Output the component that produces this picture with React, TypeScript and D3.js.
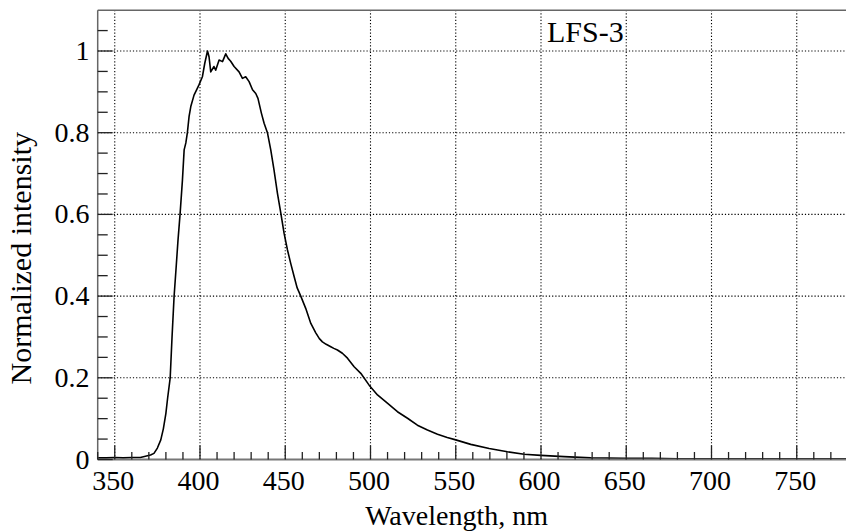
import { useEffect, useRef } from 'react';
import * as d3 from 'd3';

// spectrum
const wavelength = [
  340, 345, 350, 355, 360, 365, 368, 371, 373, 375, 377, 378.5, 380, 381, 382.5, 383.6, 384.8, 386,
  387.1, 388.3, 389.7, 390.7, 391.7, 392.6, 393.6, 394.6, 396.5, 398, 399.4, 401.4, 402.8, 404.4,
  405.3, 406.3, 408.2, 409.2, 411.2, 413.2, 415.1, 416.5, 418, 420, 422.9, 424.9, 426.8, 428.8,
  430.8, 432.7, 434, 436, 437.6, 439.6, 441.5, 443.4, 445.4, 447.4, 449.3, 451.3, 453.2, 455.2,
  457, 459.1, 462, 465, 467.9, 470, 471.8, 474, 476.7, 478.5, 480.6, 483.5, 486.5, 490.4, 494.3,
  499.2, 504.1, 509.9, 515.8, 521.7, 527.5, 533.4, 539.3, 545, 550, 558.8, 569.6, 580.3, 590.1,
  599.9, 613.5, 629.2, 648.7, 665, 680, 700, 720, 740, 760, 780,
];
const intensity = [
  0.004, 0.004, 0.005, 0.004, 0.005, 0.005, 0.008, 0.011, 0.015, 0.028, 0.048, 0.075, 0.113, 0.15,
  0.199, 0.3, 0.399, 0.47, 0.537, 0.6, 0.684, 0.758, 0.775, 0.8, 0.84, 0.864, 0.892, 0.905, 0.917,
  0.937, 0.97, 1.0, 0.986, 0.949, 0.962, 0.953, 0.978, 0.974, 0.993, 0.982, 0.975, 0.962, 0.949,
  0.933, 0.937, 0.925, 0.905, 0.896, 0.884, 0.848, 0.823, 0.799, 0.758, 0.709, 0.652, 0.603, 0.554,
  0.513, 0.48, 0.448, 0.42, 0.4, 0.37, 0.333, 0.31, 0.296, 0.288, 0.282, 0.276, 0.272, 0.268, 0.26,
  0.248, 0.227, 0.211, 0.182, 0.158, 0.138, 0.117, 0.101, 0.084, 0.072, 0.062, 0.054, 0.048, 0.037,
  0.027, 0.019, 0.013, 0.01, 0.007, 0.004, 0.003, 0.003, 0.002, 0.002, 0.002, 0.002, 0.002, 0.002,
];

const xTicks = [350, 400, 450, 500, 550, 600, 650, 700, 750];
const yTicks = [0, 0.2, 0.4, 0.6, 0.8, 1];
const sampleName = 'LFS-3';
const xTitle = 'Wavelength, nm';
const yTitle = 'Normalized intensity';

export default function App() {
  const svgRef = useRef<SVGSVGElement>(null);

  useEffect(() => {
    const width = 846;
    const height = 532;
    const left = 97.7;
    const right = 847.9;
    const top = 10.15;
    const bottom = 459.5;
    const font = '"Liberation Serif", "Times New Roman", serif';

    const svg = d3.select(svgRef.current)
      .attr('width', width)
      .attr('height', height);
    svg.selectAll('*').remove();

    const x = d3.scaleLinear().domain([340, 780]).range([left, right]);
    const y = d3.scaleLinear().domain([0, 1.1]).range([bottom, top]);

    svg.append('defs').append('clipPath').attr('id', 'plot')
      .append('rect')
      .attr('x', left).attr('y', top)
      .attr('width', right - left).attr('height', bottom - top);

    // dotted grid
    svg.append('g')
      .selectAll('line')
      .data(xTicks)
      .enter()
      .append('line')
      .attr('x1', d => x(d)).attr('x2', d => x(d))
      .attr('y1', top).attr('y2', bottom)
      .attr('stroke', '#000')
      .attr('stroke-dasharray', '1.2,2')
      .attr('stroke-width', 1.1);

    svg.append('g')
      .selectAll('line')
      .data(yTicks.filter(d => d > 0))
      .enter()
      .append('line')
      .attr('x1', left).attr('x2', right)
      .attr('y1', d => y(d)).attr('y2', d => y(d))
      .attr('stroke', '#000')
      .attr('stroke-dasharray', '1.2,2')
      .attr('stroke-width', 1.1);

    // spectrum
    const line = d3.line<number>()
      .x((d, i) => x(wavelength[i]))
      .y(d => y(d));

    svg.append('path')
      .datum(intensity)
      .attr('clip-path', 'url(#plot)')
      .attr('fill', 'none')
      .attr('stroke', '#000')
      .attr('stroke-width', 1.6)
      .attr('stroke-linejoin', 'round')
      .attr('d', line);

    // frame
    svg.append('line')
      .attr('x1', left).attr('x2', right).attr('y1', top).attr('y2', top)
      .attr('stroke', '#666').attr('stroke-width', 1.5);
    svg.append('line')
      .attr('x1', left).attr('x2', right).attr('y1', bottom).attr('y2', bottom)
      .attr('stroke', '#777').attr('stroke-width', 2);
    svg.append('line')
      .attr('x1', left).attr('x2', left).attr('y1', top).attr('y2', bottom)
      .attr('stroke', '#666').attr('stroke-width', 1.5);

    // ticks, pointing inward
    const xMinor = d3.range(340, 781, 10);
    svg.append('g')
      .selectAll('line')
      .data(xMinor)
      .enter()
      .append('line')
      .attr('x1', d => x(d)).attr('x2', d => x(d))
      .attr('y1', bottom)
      .attr('y2', d => bottom - (d % 50 === 0 ? 14 : 7.5))
      .attr('stroke', '#222')
      .attr('stroke-width', 1.3);

    const yMinor = d3.range(0, 22).map(i => i * 0.05);
    svg.append('g')
      .selectAll('line')
      .data(yMinor)
      .enter()
      .append('line')
      .attr('y1', d => y(d)).attr('y2', d => y(d))
      .attr('x1', left)
      .attr('x2', (d, i) => left + (i % 4 === 0 ? 15 : 10))
      .attr('stroke', '#222')
      .attr('stroke-width', 1.3);

    // tick labels
    svg.append('g')
      .selectAll('text')
      .data(xTicks)
      .enter()
      .append('text')
      .attr('x', d => x(d) - 1.5)
      .attr('y', 490)
      .attr('text-anchor', 'middle')
      .style('font-family', font)
      .style('font-size', '28px')
      .text(d => String(d));

    svg.append('g')
      .selectAll('text')
      .data(yTicks)
      .enter()
      .append('text')
      .attr('x', 89.5)
      .attr('y', d => y(d) + 9)
      .attr('text-anchor', 'end')
      .style('font-family', font)
      .style('font-size', '28px')
      .text(d => String(d));

    // titles
    svg.append('text')
      .attr('x', 548)
      .attr('y', 525)
      .attr('text-anchor', 'end')
      .style('font-family', font)
      .style('font-size', '28px')
      .text(xTitle);

    svg.append('text')
      .attr('transform', 'translate(31,132) rotate(-90)')
      .attr('text-anchor', 'end')
      .style('font-family', font)
      .style('font-size', '30px')
      .text(yTitle);

    svg.append('text')
      .attr('x', 547)
      .attr('y', 42.3)
      .style('font-family', font)
      .style('font-size', '30px')
      .text(sampleName);
  }, []);

  return (
    <svg ref={svgRef} style={{ position: 'absolute', left: 0, top: 0, background: '#fff' }}></svg>
  );
}
